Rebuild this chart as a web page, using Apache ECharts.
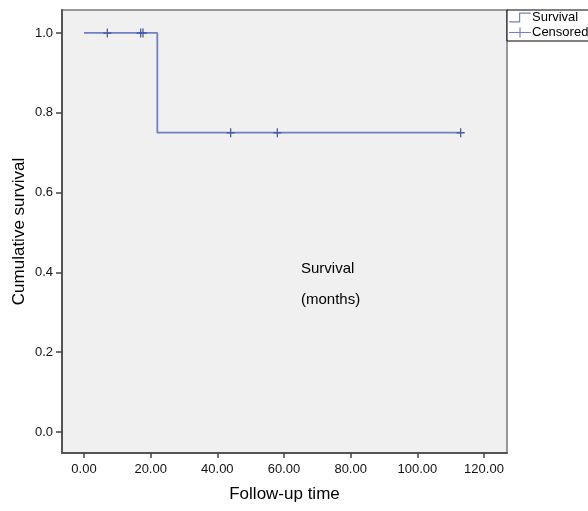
<!DOCTYPE html>
<html>
<head>
<meta charset="utf-8">
<script src="https://cdn.jsdelivr.net/npm/echarts@6/dist/echarts.min.js"></script>
<style>
html,body{margin:0;padding:0;background:#fff;}
#chart{width:588px;height:511px;}
</style>
</head>
<body>
<div id="chart"></div>
<script>
// Kaplan-Meier step curve
var stepTimes = [0, 22, 113];
var stepSurvival = [1.0, 0.75, 0.75];
// Censored observations
var censorTimes = [7, 17, 17.7, 44, 58, 113];
var censorSurvival = [1.0, 1.0, 1.0, 0.75, 0.75, 0.75];
// Tick labels
var xTicks = [0, 20, 40, 60, 80, 100, 120];
var yTicks = [0, 0.2, 0.4, 0.6, 0.8, 1.0];

var FONT = '"Liberation Sans", Arial, Helvetica, sans-serif';
var lineColor = '#6f80c4';
var markColor = '#4a5aa4';
var plusPath = 'path://M-0.8,-5H0.8V-0.8H5V0.8H0.8V5H-0.8V0.8H-5V-0.8H-0.8Z';
var stepIcon = 'path://M0,9H10V0H22V1.2H11.2V10.2H0Z';
var plusIcon = 'path://M0,4.4H10.4V0H11.6V4.4H22V5.6H11.6V10H10.4V5.6H0Z';

var chart = echarts.init(document.getElementById('chart'), null, {renderer: 'canvas'});
chart.setOption({
  animation: false,
  backgroundColor: '#ffffff',
  grid: {
    left: 62, top: 10, right: 81, bottom: 58,
    show: true, backgroundColor: '#f0f0f0', borderColor: '#7a7a7a', borderWidth: 1.5
  },
  legend: {
    left: 507, top: 10,
    orient: 'vertical',
    itemWidth: 22, itemHeight: 10, itemGap: 2,
    padding: [1, 10, 2, 2],
    backgroundColor: '#ffffff',
    borderColor: '#000000', borderWidth: 1,
    textStyle: {fontFamily: FONT, fontSize: 13, color: '#000', padding: [0, 0, 0, -4]},
    data: [
      {name: 'Survival', icon: stepIcon, itemStyle: {color: lineColor}},
      {name: 'Censored', icon: plusIcon, itemStyle: {color: lineColor}}
    ]
  },
  xAxis: {
    type: 'value',
    min: -6.6, max: 126.9,
    name: 'Follow-up time',
    nameLocation: 'middle', nameGap: 33, nameMoveOverlap: false,
    nameTextStyle: {fontFamily: FONT, fontSize: 17, color: '#000'},
    axisLine: {show: true, onZero: false, lineStyle: {color: '#555', width: 2}},
    axisTick: {show: true, length: 5, customValues: xTicks, lineStyle: {color: '#444', width: 1.5}},
    axisLabel: {show: true, customValues: xTicks, margin: 10, fontFamily: FONT, fontSize: 13, color: '#111',
      formatter: function (v) { return v.toFixed(2); }},
    splitLine: {show: false}
  },
  yAxis: {
    type: 'value',
    min: -0.0525, max: 1.0575,
    name: 'Cumulative survival',
    nameLocation: 'middle', nameGap: 34, nameMoveOverlap: false,
    nameTextStyle: {fontFamily: FONT, fontSize: 17, color: '#000'},
    axisLine: {show: true, onZero: false, lineStyle: {color: '#555', width: 2}},
    axisTick: {show: true, length: 6, customValues: yTicks, lineStyle: {color: '#444', width: 1.5}},
    axisLabel: {show: true, customValues: yTicks, margin: 9, fontFamily: FONT, fontSize: 13, color: '#111',
      formatter: function (v) { return v.toFixed(1); }},
    splitLine: {show: false}
  },
  series: [
    {
      name: 'Survival',
      type: 'line',
      step: 'end',
      showSymbol: false,
      symbol: 'none',
      data: stepTimes.map(function (t, i) { return [t, stepSurvival[i]]; }),
      lineStyle: {color: lineColor, width: 1.8},
      itemStyle: {color: lineColor},
      z: 2
    },
    {
      name: 'Censored',
      type: 'scatter',
      symbol: plusPath,
      symbolSize: [8, 9],
      data: censorTimes.map(function (t, i) { return [t, censorSurvival[i]]; }),
      itemStyle: {color: markColor, opacity: 1},
      z: 3
    }
  ],
  graphic: [
    {type: 'text', left: 301, top: 261, style: {text: 'Survival', fontFamily: FONT, fontSize: 15, fill: '#000'}},
    {type: 'text', left: 301, top: 292, style: {text: '(months)', fontFamily: FONT, fontSize: 15, fill: '#000'}}
  ]
});
</script>
</body>
</html>
